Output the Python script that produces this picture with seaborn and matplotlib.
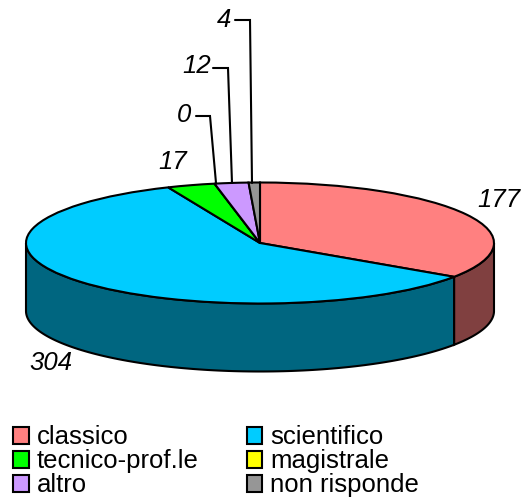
import numpy as np
import matplotlib
matplotlib.use("Agg")
import matplotlib.pyplot as plt
from matplotlib.patches import Patch, Polygon
import seaborn as sns

categories = ["classico", "scientifico", "tecnico-prof.le", "magistrale", "altro", "non risponde"]
values = [177, 304, 17, 0, 12, 4]
top_colors = ["#FF8080", "#00CCFF", "#00FF00", "#FFFF00", "#CC99FF", "#969696"]

sns.set_theme(style="white")
plt.rcParams["font.family"] = ["Liberation Sans", "DejaVu Sans"]
palette = sns.color_palette(top_colors)

W, H = 528, 498
CX, CY, RX, RY, DEPTH_PX = 260, 243, 234, 60.5, 68
LW = 1.5
FS = 18.5

fig = plt.figure(figsize=(W / 100, H / 100), dpi=100)
ax = fig.add_axes([0, 0, 1, 1])


def px(x, y):
    """Pixel position in the reference -> pie units."""
    return (x - CX) / RX, (CY - y) / RY


depth = DEPTH_PX / RY
fractions = np.array(values) / sum(values) * 360
ends = np.cumsum(fractions)
starts = ends - fractions

# side wall: only the front half (90..270 deg clockwise from the top) shows
for a0, a1, col in zip(starts, ends, palette):
    lo, hi = max(a0, 90), min(a1, 270)
    if hi <= lo:
        continue
    t = np.radians(np.linspace(lo, hi, 120))
    xs, ys = np.sin(t), np.cos(t)
    pts = np.r_[np.c_[xs, ys], np.c_[xs, ys - depth][::-1]]
    dark = tuple(c * 0.5 for c in col)
    ax.add_patch(Polygon(pts, closed=True, facecolor=dark, edgecolor="black", linewidth=LW, zorder=1))

ax.pie(values, colors=palette, startangle=90, counterclock=False, radius=1,
       wedgeprops=dict(edgecolor="black", linewidth=LW, zorder=2))
ax.set_aspect("auto")
ax.set_xlim(px(0, 0)[0], px(W, 0)[0])
ax.set_ylim(px(0, H)[1], px(0, 0)[1])
ax.axis("off")

# value labels
label_pos = [(499, 200), (51, 363), (173, 162), (184, 115), (197, 66), (224, 20)]
for v, (x, y) in zip(values, label_pos):
    ax.text(*px(x, y), str(v), fontsize=FS, style="italic", ha="center", va="center",
            color="black", zorder=4)

# leader lines for the small slices
leaders = [
    [(216, 183), (210, 116), (196, 116)],
    [(232, 183), (228, 68), (213, 68)],
    [(252, 183), (250, 20), (235, 20)],
]
for path in leaders:
    pts = [px(*p) for p in path]
    ax.plot([p[0] for p in pts], [p[1] for p in pts], color="black", lw=LW, zorder=3,
            solid_joinstyle="miter")

# legend is filled column by column, the reference reads row by row
order = [0, 2, 4, 1, 3, 5]
handles = [Patch(facecolor=palette[i], edgecolor="black", linewidth=LW) for i in order]
labels = [categories[i] for i in order]
fig.legend(handles, labels, ncol=2, frameon=False, fontsize=FS,
           loc="upper left", bbox_to_anchor=(8 / W, 1 - 420 / H), bbox_transform=fig.transFigure,
           handlelength=0.6, handleheight=0.65, handletextpad=0.32,
           columnspacing=1.87, labelspacing=0.0, borderpad=0.2, borderaxespad=0,
           labelcolor="black")

fig.savefig("out.png", dpi=100, facecolor="white")
